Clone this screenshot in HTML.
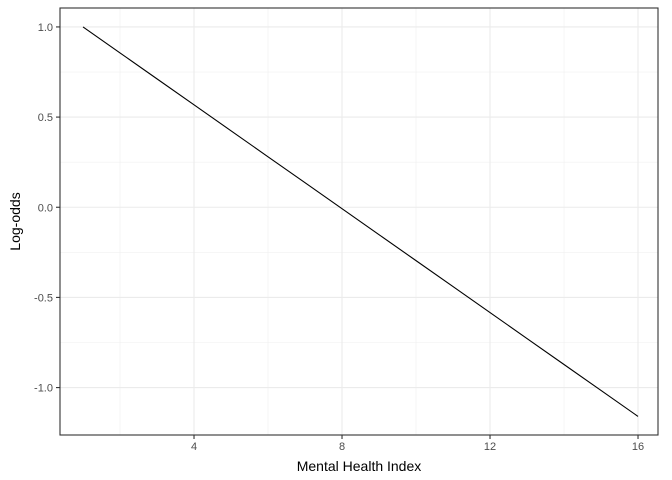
<!DOCTYPE html>
<html><head><meta charset="utf-8"><style>
body{margin:0;background:#fff;}
svg{display:block;font-family:"Liberation Sans",Arial,sans-serif;}
</style></head><body>
<svg id="chart" width="672" height="480"></svg>
<script>
const xValues=[1,2,3,4,5,6,7,8,9,10,11,12,13,14,15,16];
const yValues=[1.0,0.856,0.712,0.568,0.424,0.28,0.136,-0.008,-0.152,-0.296,-0.44,-0.584,-0.728,-0.872,-1.016,-1.16];
const xTicks=[4,8,12,16];
const xMinor=[2,6,10,14];
const yTicks=[-1.0,-0.5,0.0,0.5,1.0];
const yTickLabels=["-1.0","-0.5","0.0","0.5","1.0"];
const yMinor=[-0.75,-0.25,0.25,0.75];

const svg=document.getElementById('chart');
const NS='http://www.w3.org/2000/svg';
const L=60,R=658,T=8,B=435;
const xMin=0.378,xMax=16.54,yMin=-1.263,yMax=1.105;
const xs=v=>L+(v-xMin)/(xMax-xMin)*(R-L);
const ys=v=>B-(v-yMin)/(yMax-yMin)*(B-T);
function mk(tag,attrs,parent){const e=document.createElementNS(NS,tag);for(const k in attrs)e.setAttribute(k,attrs[k]);(parent||svg).appendChild(e);return e;}

const grid=mk('g',{});


xMinor.forEach(v=>mk('line',{x1:xs(v),x2:xs(v),y1:T,y2:B,stroke:'#f0f0f0','stroke-width':0.6},grid));
yMinor.forEach(v=>mk('line',{x1:L,x2:R,y1:ys(v),y2:ys(v),stroke:'#f0f0f0','stroke-width':0.6},grid));
xTicks.forEach(v=>mk('line',{x1:xs(v),x2:xs(v),y1:T,y2:B,stroke:'#ebebeb','stroke-width':1.1},grid));
yTicks.forEach(v=>mk('line',{x1:L,x2:R,y1:ys(v),y2:ys(v),stroke:'#ebebeb','stroke-width':1.1},grid));

const pts=xValues.map((x,i)=>xs(x)+','+ys(yValues[i])).join(' ');
const line=mk('polyline',{points:pts,fill:'none',stroke:'#000','stroke-width':1.1});



const panel=mk('rect',{x:L,y:T,width:R-L,height:B-T,fill:'none',stroke:'#333','stroke-width':1.1});



xTicks.forEach(v=>{
  mk('line',{x1:xs(v),x2:xs(v),y1:B,y2:B+4,stroke:'#333','stroke-width':1.1});
  const t=mk('text',{x:xs(v),y:B+15,'text-anchor':'middle','font-size':11,fill:'#4d4d4d'});
  t.textContent=v;
  
  
});
yTicks.forEach((v,i)=>{
  mk('line',{x1:L-4,x2:L,y1:ys(v),y2:ys(v),stroke:'#333','stroke-width':1.1});
  const t=mk('text',{x:L-7,y:ys(v)+4,'text-anchor':'end','font-size':11,fill:'#4d4d4d'});
  t.textContent=yTickLabels[i];
  
  
});
const xt=mk('text',{x:(L+R)/2,y:471,'text-anchor':'middle','font-size':14,fill:'#000'});
xt.textContent='Mental Health Index';


const yt=mk('text',{x:0,y:0,'text-anchor':'middle','font-size':14,fill:'#000',transform:'translate(20,'+((T+B)/2)+') rotate(-90)'});
yt.textContent='Log-odds';


</script>
</body></html>
